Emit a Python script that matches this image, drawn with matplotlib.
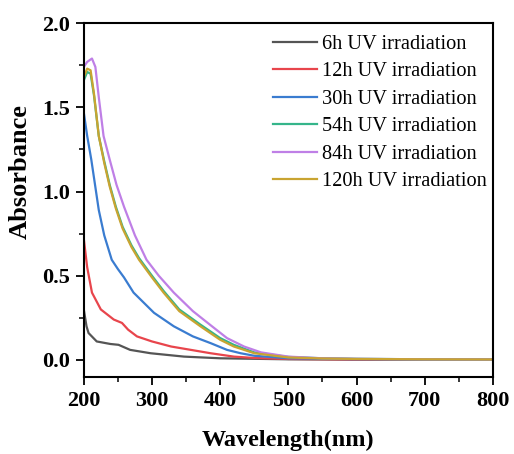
import matplotlib
matplotlib.use('Agg')
import matplotlib.pyplot as plt
from matplotlib.ticker import MultipleLocator, FormatStrFormatter

# values (wavelength in nm, absorbance)
wl_6h = [200, 204, 207, 219, 239, 251, 268, 298, 347, 400, 500, 600, 800]
a_6h = [0.30, 0.20, 0.16, 0.11, 0.095, 0.09, 0.06, 0.04, 0.02, 0.01, 0.004, 0.002, 0.001]

wl_12h = [200, 205, 212, 225, 244, 256, 265, 278, 300, 328, 386, 420, 450, 500, 600, 800]
a_12h = [0.72, 0.55, 0.40, 0.30, 0.24, 0.22, 0.18, 0.14, 0.11, 0.08, 0.04, 0.02, 0.012, 0.006, 0.003, 0.002]

wl_30h = [200, 205, 211, 222, 230, 241, 250, 259, 273, 303, 332, 360, 386, 410, 430, 450, 500, 600, 800]
a_30h = [1.47, 1.33, 1.19, 0.89, 0.74, 0.595, 0.54, 0.49, 0.40, 0.28, 0.20, 0.14, 0.10, 0.06, 0.04, 0.025, 0.01, 0.005, 0.002]

wl_54h = [200, 205, 210, 215, 222, 230, 238, 247, 257, 270, 281, 300, 317, 340, 371, 400, 420, 450, 500, 550, 600, 700, 800]
a_54h = [1.66, 1.71, 1.70, 1.57, 1.33, 1.18, 1.04, 0.91, 0.79, 0.68, 0.605, 0.50, 0.41, 0.30, 0.21, 0.13, 0.09, 0.045, 0.018, 0.01, 0.007, 0.004, 0.003]

wl_84h = [200, 205, 212, 217, 222, 229, 238, 248, 259, 275, 292, 310, 332, 360, 388, 410, 435, 460, 500, 550, 600, 700, 800]
a_84h = [1.74, 1.77, 1.79, 1.74, 1.56, 1.33, 1.19, 1.04, 0.91, 0.74, 0.595, 0.50, 0.40, 0.29, 0.20, 0.13, 0.08, 0.045, 0.02, 0.01, 0.007, 0.004, 0.003]

wl_120h = [200, 205, 210, 215, 222, 230, 238, 247, 257, 270, 281, 300, 317, 340, 371, 400, 420, 450, 500, 550, 600, 700, 800]
a_120h = [1.68, 1.73, 1.72, 1.58, 1.33, 1.17, 1.03, 0.90, 0.78, 0.67, 0.595, 0.49, 0.40, 0.29, 0.20, 0.12, 0.08, 0.04, 0.015, 0.009, 0.006, 0.004, 0.003]

labels = ['6h UV irradiation', '12h UV irradiation', '30h UV irradiation',
          '54h UV irradiation', '84h UV irradiation', '120h UV irradiation']
colors = ['#555555', '#e8454c', '#3a7cd0', '#35b58a', '#bf7fe6', '#c9a431']
series = [(wl_6h, a_6h), (wl_12h, a_12h), (wl_30h, a_30h),
          (wl_54h, a_54h), (wl_84h, a_84h), (wl_120h, a_120h)]

plt.rcParams['font.family'] = 'Liberation Serif'

fig = plt.figure(figsize=(5.14, 4.54), dpi=100)
ax = fig.add_axes([0.163, 0.170, 0.796, 0.779])

for (x, y), c, lab in zip(series, colors, labels):
    ax.plot(x, y, color=c, lw=1.6, label=lab)

ax.set_xlim(200, 800)
ax.set_ylim(-0.1, 2.0)
ax.xaxis.set_major_locator(MultipleLocator(100))
ax.xaxis.set_minor_locator(MultipleLocator(50))
ax.yaxis.set_major_locator(MultipleLocator(0.5))
ax.yaxis.set_minor_locator(MultipleLocator(0.25))
ax.yaxis.set_major_formatter(FormatStrFormatter('%.1f'))
ax.tick_params(which='major', direction='out', length=6, width=1.3, labelsize=16, pad=4)
ax.tick_params(which='minor', direction='out', length=3.5, width=1.1)
for lbl in ax.get_xticklabels() + ax.get_yticklabels():
    lbl.set_fontweight('bold')
for s in ax.spines.values():
    s.set_linewidth(1.5)

ax.set_xlabel('Wavelength(nm)', fontsize=17.5, fontweight='bold', labelpad=14)
ax.set_ylabel('Absorbance', fontsize=19, fontweight='bold')
ax.yaxis.set_label_coords(-0.127, 0.58)

ax.legend(loc='upper right', bbox_to_anchor=(1.0, 0.985), frameon=False, fontsize=14.7,
          handlelength=2.15, handletextpad=0.25, labelspacing=0.4,
          borderaxespad=0.0, borderpad=0.3)

fig.savefig('out.png', dpi=100)
